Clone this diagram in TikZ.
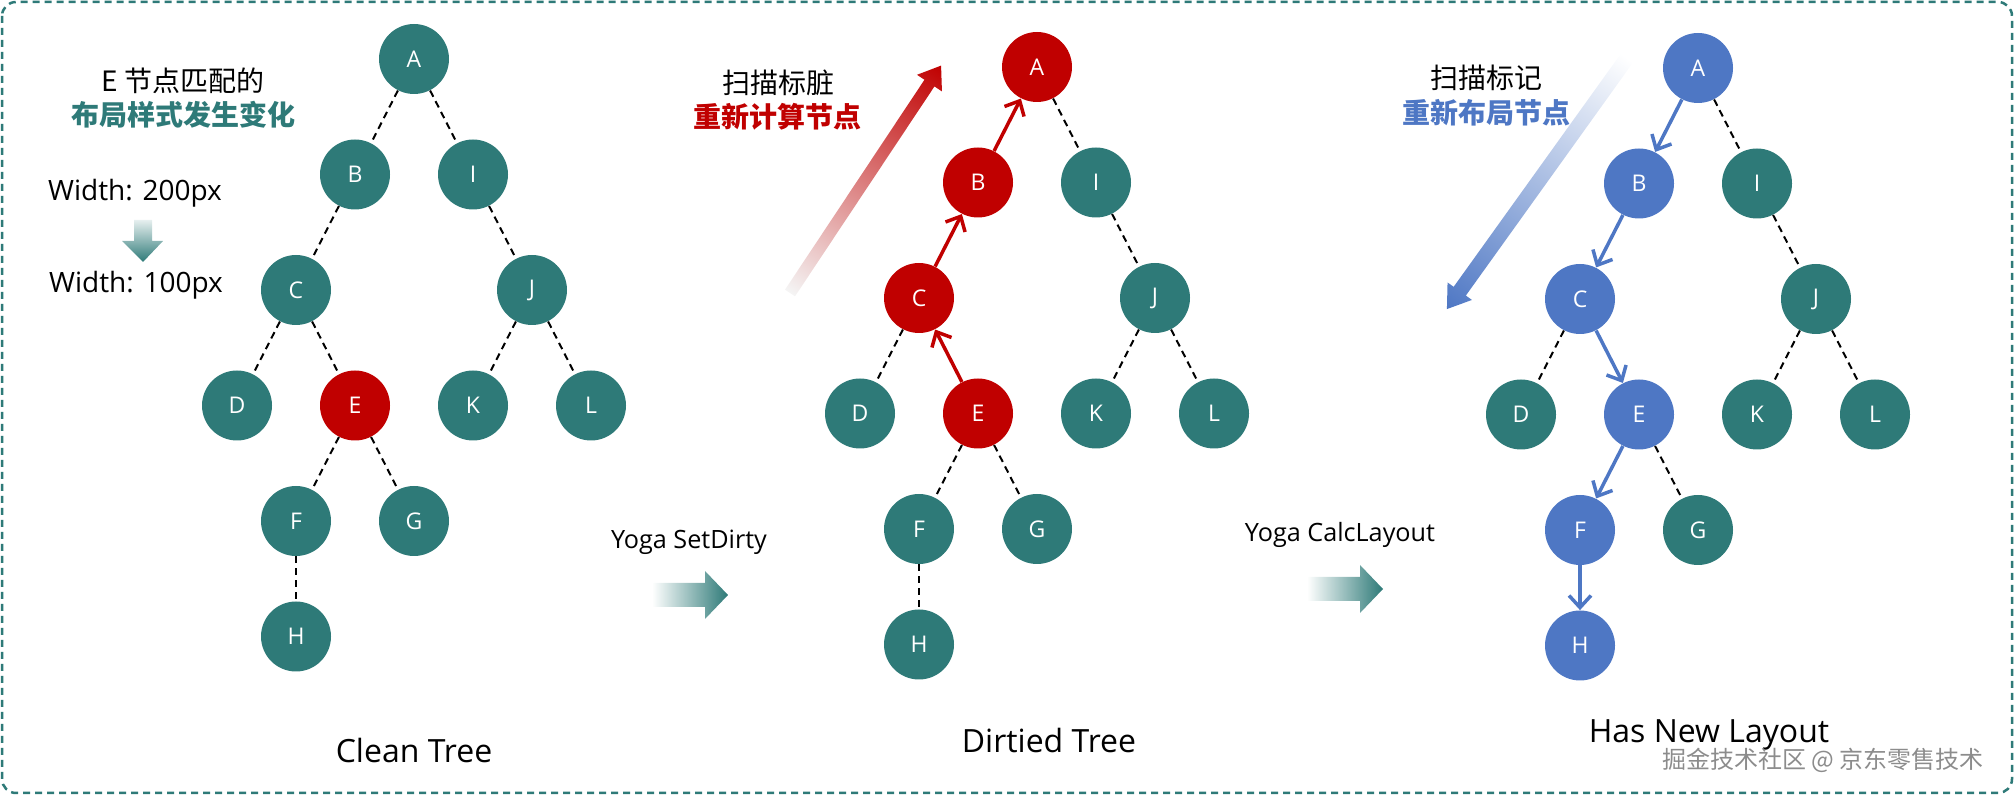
\documentclass[tikz,border=0pt]{standalone}
\usepackage{fontspec}
\setmainfont{Open Sans}
\newfontfamily\cjk{Noto Sans CJK SC}
\usetikzlibrary{arrows.meta}

\definecolor{cleanteal}{HTML}{2E7A78}
\definecolor{dirtyred}{HTML}{C00000}
\definecolor{layoutblue}{HTML}{4E77C4}

\tikzset{
  treenode/.style={circle, fill=cleanteal, text=white, inner sep=0pt, minimum size=35pt,
    font=\fontsize{11.5}{13}\selectfont},
  dirtynode/.style={fill=dirtyred},
  layoutnode/.style={fill=layoutblue},
  treeedge/.style={draw=black, line width=1pt, dash pattern=on 3.5pt off 2.5pt},
  uparrow/.style={draw=dirtyred, solid, line width=1.75pt, {Straight Barb[length=6pt,width=11pt]}-},
  downarrow/.style={draw=layoutblue, solid, line width=1.75pt, -{Straight Barb[length=6pt,width=11pt]}},
  % which nodes and edges are marked in each tree
  n1E/.style=dirtynode,
  n2A/.style=dirtynode, n2B/.style=dirtynode, n2C/.style=dirtynode, n2E/.style=dirtynode,
  n3A/.style=layoutnode, n3B/.style=layoutnode, n3C/.style=layoutnode,
  n3E/.style=layoutnode, n3F/.style=layoutnode, n3H/.style=layoutnode,
  e2AB/.style=uparrow, e2BC/.style=uparrow, e2CE/.style=uparrow,
  e3AB/.style=downarrow, e3BC/.style=downarrow, e3CE/.style=downarrow,
  e3EF/.style=downarrow, e3FH/.style=downarrow,
  cntext/.style={font=\cjk\fontsize{14}{16}\selectfont},
  cnbold/.style={font=\cjk\bfseries\fontsize{14}{16}\selectfont},
  yogatext/.style={font=\fontsize{12.6}{14}\selectfont},
  treetitle/.style={font=\fontsize{16}{18}\selectfont}
}

\begin{document}
\begin{tikzpicture}[x=0.5pt, y=-0.5pt]
    \useasboundingbox (0,0) rectangle (2014,795);
    \draw[cleanteal, line width=1.25pt, dash pattern=on 3.5pt off 2.5pt, rounded corners=7pt] (2,2) rectangle (2012,793);

    \newcommand{\colw}{59}
    \newcommand{\rowh}{115.5}

    % the three trees
    \foreach \tr/\rx/\ry in {1/414/59, 2/1037/67, 3/1698/68} {
      \foreach \nd/\i/\j in {A/0/0, B/-1/1, I/1/1, C/-2/2, J/2/2, D/-3/3, E/-1/3, K/1/3, L/3/3, F/-2/4, G/0/4, H/-2/5}
        \node[treenode, n\tr\nd/.try] (\nd\tr) at (\rx+\i*\colw, \ry+\j*\rowh) {\nd};
    }
    \foreach \tr in {1,2,3}
      \foreach \p/\q in {A/B, A/I, B/C, I/J, C/D, C/E, J/K, J/L, E/F, E/G, F/H}
        \draw[treeedge, e\tr\p\q/.try] (\p\tr) -- (\q\tr);

    % left notes
    \node[cntext] (hint) at (183,81) {E 节点匹配的};
    \node[cnbold, text=cleanteal] (hintb) at (183,115) {布局样式发生变化};
    \node[font=\fontsize{14}{16}\selectfont] (wold) at (135,193) {Width: 200px};
    \node[font=\fontsize{14}{16}\selectfont] (wnew) at (136,285) {Width: 100px};
    \shade[top color=cleanteal!12, bottom color=cleanteal] (134,220) -- (152,220) -- (152,241) -- (163,241) -- (143,262) -- (122,241) -- (134,241) -- cycle;

    % scan notes
    \node[cntext] (scan) at (778,83) {扫描标脏};
    \node[cnbold, text=dirtyred] (scanb) at (777,117) {重新计算节点};
    \node[cntext] (mark) at (1486,78) {扫描标记};
    \node[cnbold, text=layoutblue] (markb) at (1486,113) {重新布局节点};

    \begin{scope}[transform canvas={shift={(790,293)}, rotate=56.4}]
      \shade[left color=black!4, middle color=dirtyred!30!black!25, right color=dirtyred] (0,-6) -- (252,-6) -- (252,-15) -- (273,0) -- (252,15) -- (252,6) -- (0,6) -- cycle;
    \end{scope}
    \begin{scope}[transform canvas={shift={(1627,58)}, rotate=234.35}]
      \shade[left color=white, middle color=layoutblue!50!black!15, right color=layoutblue] (0,-7.5) -- (287,-7.5) -- (287,-15) -- (309,0) -- (287,15) -- (287,7.5) -- (0,7.5) -- cycle;
    \end{scope}

    % steps between trees
    \node[yogatext] (dirty) at (689,542) {Yoga SetDirty};
    \shade[left color=white, right color=cleanteal] (652,583) -- (705,583) -- (705,571) -- (728,595) -- (705,619) -- (705,607) -- (652,607) -- cycle;
    \node[yogatext] (calc) at (1340,535) {Yoga CalcLayout};
    \shade[left color=white, right color=cleanteal] (1307,577) -- (1360,577) -- (1360,565) -- (1383,589) -- (1360,613) -- (1360,601) -- (1307,601) -- cycle;

    \node[treetitle] (clean) at (414,751) {Clean Tree};
    \node[treetitle] (dirtied) at (1049,741) {Dirtied Tree};
    \node[treetitle] (newlayout) at (1709,735) {Has New Layout};
    \node[font=\cjk\fontsize{12}{14}\selectfont, text=black!45] (wmark) at (1823,760) {掘金技术社区 @ 京东零售技术};
\end{tikzpicture}
\end{document}
